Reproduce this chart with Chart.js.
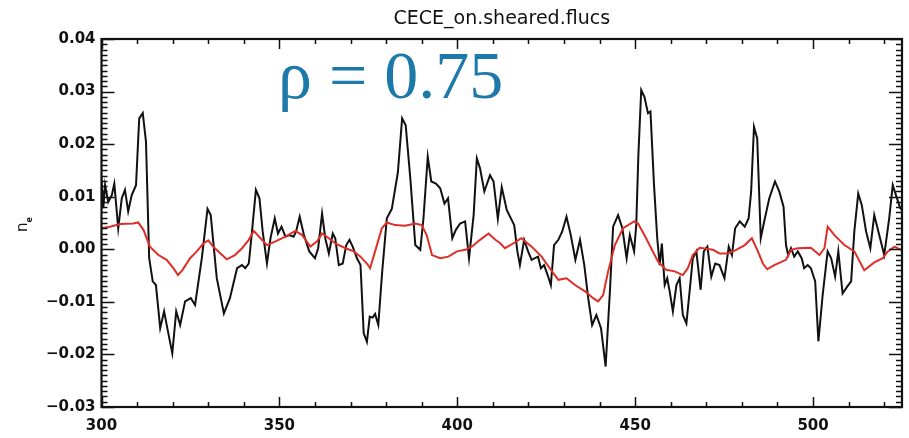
<!DOCTYPE html>
<html>
<head>
<meta charset="utf-8">
<script src="https://cdn.jsdelivr.net/npm/chart.js@4/dist/chart.umd.min.js"></script>
<style>
  html, body { margin: 0; padding: 0; background: #fff; }
  #wrap { width: 909px; height: 438px; }
</style>
</head>
<body>
<div id="wrap"><canvas id="c" width="909" height="438"></canvas></div>
<script>
// Measured density fluctuation (black) and synthetic CECE signal (red)
const blackX = [300.0,300.5,301.0,301.9,302.9,303.6,304.7,305.7,306.6,307.5,308.5,309.7,310.6,311.6,312.5,313.4,314.4,315.3,316.5,317.6,318.5,319.9,321.0,322.1,323.5,325.1,326.3,328.2,329.8,330.7,332.4,334.4,336.1,338.1,339.5,340.4,341.4,342.3,343.4,344.4,345.3,346.5,347.5,348.7,349.6,350.6,351.7,352.8,354.0,354.7,355.7,356.9,358.4,360.0,360.9,362.0,362.9,363.9,365.0,365.7,366.7,367.8,368.8,369.7,370.6,371.8,372.8,373.7,374.6,375.4,376.2,376.9,377.8,378.9,380.2,381.6,383.3,384.5,385.5,386.8,388.2,389.6,390.5,391.7,392.7,394.0,395.2,396.4,397.4,398.6,399.6,400.8,402.2,403.3,404.6,405.5,406.4,407.6,409.2,410.2,411.4,412.5,413.9,415.2,416.0,416.9,417.6,418.8,419.9,420.9,421.8,422.7,423.5,424.4,425.4,426.3,427.2,428.4,429.5,430.7,431.9,433.2,434.5,435.7,436.8,437.9,439.1,440.4,441.7,442.9,443.8,445.2,446.4,447.6,448.5,449.7,450.3,450.9,451.7,452.6,453.6,454.3,455.3,456.2,456.9,457.5,458.3,459.0,459.7,460.6,461.6,462.5,463.4,464.4,465.3,466.2,467.2,468.4,469.3,470.3,471.4,472.5,473.7,475.1,476.3,477.2,478.1,479.4,480.8,481.9,482.6,483.4,484.3,485.3,486.4,487.7,489.3,490.5,491.7,492.4,493.0,493.8,494.7,495.7,496.8,497.5,498.5,499.4,500.6,501.5,502.7,504.1,505.1,506.2,507.1,508.3,509.6,510.7,511.6,512.7,513.7,514.9,516.1,517.2,518.6,520.0,521.4,522.4,523.3,524.5,525.0];
const blackY = [0.0135,0.0078,0.0122,0.0090,0.0103,0.0125,0.0040,0.0097,0.0113,0.0072,0.0103,0.0122,0.0249,0.0259,0.0205,-0.0017,-0.0061,-0.0068,-0.0150,-0.0118,-0.0150,-0.0198,-0.0118,-0.0144,-0.0099,-0.0093,-0.0106,-0.0017,0.0077,0.0065,-0.0055,-0.0122,-0.0093,-0.0036,-0.0030,-0.0036,-0.0027,0.0034,0.0113,0.0097,0.0034,-0.0027,0.0021,0.0059,0.0030,0.0043,0.0024,0.0027,0.0024,0.0034,0.0062,0.0027,-0.0004,-0.0017,0.0002,0.0068,0.0021,-0.0008,0.0030,0.0021,-0.0030,-0.0027,0.0008,0.0018,0.0005,-0.0017,-0.0030,-0.0160,-0.0176,-0.0128,-0.0130,-0.0123,-0.0144,-0.0042,0.0059,0.0077,0.0146,0.0249,0.0236,0.0135,0.0008,-0.0001,0.0059,0.0176,0.0129,0.0125,0.0116,0.0087,0.0097,0.0021,0.0037,0.0049,0.0053,-0.0017,0.0065,0.0173,0.0154,0.0110,0.0141,0.0129,0.0058,0.0118,0.0075,0.0057,0.0046,-0.0004,-0.0030,0.0018,-0.0004,-0.0020,-0.0017,-0.0014,-0.0036,-0.0030,-0.0049,-0.0068,0.0008,0.0018,0.0034,0.0062,0.0027,-0.0020,0.0018,-0.0030,-0.0093,-0.0144,-0.0125,-0.0150,-0.0223,-0.0080,0.0043,0.0065,0.0040,-0.0017,0.0027,-0.0004,0.0046,0.0179,0.0303,0.0290,0.0259,0.0262,0.0122,0.0021,-0.0030,0.0011,-0.0068,-0.0055,-0.0080,-0.0118,-0.0068,-0.0055,-0.0125,-0.0141,-0.0080,-0.0017,-0.0004,-0.0077,-0.0004,0.0005,-0.0052,-0.0027,-0.0030,-0.0055,0.0005,-0.0011,0.0040,0.0053,0.0043,0.0059,0.0110,0.0233,0.0211,0.0021,0.0057,0.0097,0.0129,0.0110,0.0081,0.0008,-0.0011,0.0002,-0.0014,-0.0004,-0.0017,-0.0036,-0.0030,-0.0036,-0.0061,-0.0175,-0.0087,-0.0004,-0.0017,-0.0052,-0.0004,-0.0084,-0.0071,-0.0061,0.0034,0.0106,0.0084,0.0034,0.0002,0.0065,0.0027,-0.0011,0.0059,0.0122,0.0103,0.0078,0.0075];

const redX = [300.0,302.4,305.2,308.9,310.3,311.8,313.6,316.0,318.3,320.2,321.5,322.8,324.9,326.8,328.6,330.0,331.4,333.3,335.2,337.5,339.5,341.4,342.8,344.7,346.5,348.9,351.7,354.5,356.4,358.7,360.6,362.0,363.9,365.7,368.6,370.9,372.8,374.7,375.5,376.9,378.8,380.2,382.5,385.3,388.2,390.0,391.4,392.9,395.2,397.5,399.9,402.2,404.1,406.4,408.8,410.7,412.0,413.4,415.7,418.0,420.9,423.7,426.0,428.4,430.7,433.1,435.9,438.2,439.6,441.0,442.4,444.3,446.6,449.7,450.8,452.6,454.5,456.4,458.7,461.1,463.4,464.8,466.2,468.1,470.0,471.9,473.7,476.1,478.4,480.8,482.8,484.5,485.9,487.1,489.1,492.4,493.8,495.7,499.4,501.8,503.2,504.1,506.0,508.8,511.6,514.4,517.2,519.6,521.0,522.9,525.0];
const redY = [0.0040,0.0043,0.0048,0.0049,0.0051,0.0037,0.0005,-0.0011,-0.0020,-0.0036,-0.0049,-0.0039,-0.0017,-0.0004,0.0011,0.0017,0.0005,-0.0007,-0.0019,-0.0011,0.0002,0.0018,0.0035,0.0021,0.0008,0.0015,0.0024,0.0035,0.0027,0.0005,0.0015,0.0030,0.0021,0.0011,0.0002,-0.0004,-0.0014,-0.0028,-0.0036,-0.0004,0.0040,0.0051,0.0046,0.0045,0.0049,0.0046,0.0027,-0.0011,-0.0017,-0.0014,-0.0004,-0.0001,0.0005,0.0018,0.0030,0.0018,0.0012,0.0002,0.0011,0.0021,0.0005,-0.0014,-0.0036,-0.0058,-0.0055,-0.0068,-0.0080,-0.0093,-0.0099,-0.0087,-0.0042,0.0008,0.0040,0.0053,0.0049,0.0027,0.0002,-0.0023,-0.0039,-0.0042,-0.0049,-0.0036,-0.0011,0.0003,0.0001,-0.0001,-0.0008,-0.0008,-0.0001,0.0008,0.0021,-0.0004,-0.0027,-0.0038,-0.0030,-0.0020,-0.0001,0.0002,0.0003,-0.0011,0.0002,0.0043,0.0027,0.0008,-0.0004,-0.0040,-0.0025,-0.0017,-0.0004,0.0005,-0.0002];

// Axis tick values
const xTickValues = [300, 350, 400, 450, 500];
const yTickValues = [-0.03, -0.02, -0.01, 0.00, 0.01, 0.02, 0.03, 0.04];
const xMinorStep = 10;
const yMinorStep = 0.001;

const titleText = 'CECE_on.sheared.flucs';
const corrText = 'ρ = 0.75';

const toPoints = (xs, ys) => xs.map((x, i) => ({ x: x, y: ys[i] }));

// Boxed frame with inward ticks on all four sides, plus annotations
const framePlugin = {
  id: 'frame',
  afterDraw(chart) {
    const ctx = chart.ctx;
    const a = chart.chartArea;
    const xs = chart.scales.x, ys = chart.scales.y;
    ctx.save();
    ctx.strokeStyle = '#111';
    ctx.lineWidth = 1.5;
    ctx.beginPath();
    // x ticks (bottom and top)
    for (let v = xs.min; v <= xs.max + 1e-9; v += xMinorStep) {
      const px = Math.round(xs.getPixelForValue(v)) + 0.5;
      const major = Math.abs(v % 50) < 1e-6;
      const len = major ? 10 : 5;
      ctx.moveTo(px, a.bottom); ctx.lineTo(px, a.bottom - len);
      ctx.moveTo(px, a.top); ctx.lineTo(px, a.top + len);
    }
    // y ticks (left and right)
    const n = Math.round((ys.max - ys.min) / yMinorStep);
    for (let i = 0; i <= n; i++) {
      const v = ys.min + i * yMinorStep;
      const py = Math.round(ys.getPixelForValue(v)) + 0.5;
      const len = (i % 10 === 0) ? 13 : 6;
      ctx.moveTo(a.left, py); ctx.lineTo(a.left + len, py);
      ctx.moveTo(a.right, py); ctx.lineTo(a.right - len, py);
    }
    ctx.stroke();
    ctx.lineWidth = 2.2;
    ctx.strokeRect(a.left, a.top, a.right - a.left, a.bottom - a.top);

    // title
    ctx.fillStyle = '#111';
    ctx.font = '19px "DejaVu Sans"';
    ctx.textAlign = 'center';
    ctx.textBaseline = 'alphabetic';
    ctx.fillText(titleText, (a.left + a.right) / 2, 24);

    // correlation annotation
    ctx.fillStyle = '#1c79a9';
    ctx.font = '68px "Liberation Serif"';
    ctx.textAlign = 'left';
    ctx.fillText(corrText, 278, 98);

    // y axis label n_e
    ctx.fillStyle = '#111';
    ctx.translate(27, 232);
    ctx.rotate(-Math.PI / 2);
    ctx.font = '15px "DejaVu Sans"';
    ctx.fillText('n', 0, 0);
    const w = ctx.measureText('n').width;
    ctx.font = 'bold 8px "DejaVu Sans"';
    ctx.fillText('e', w, 5);
    ctx.restore();
  }
};

new Chart(document.getElementById('c'), {
  type: 'scatter',
  data: {
    datasets: [
      { label: 'synthetic', data: toPoints(redX, redY), showLine: true, borderColor: '#dd2f27', borderWidth: 2, pointRadius: 0, tension: 0 },
      { label: 'measured', data: toPoints(blackX, blackY), showLine: true, borderColor: '#111111', borderWidth: 2, pointRadius: 0, tension: 0 }
    ]
  },
  options: {
    responsive: false,
    animation: false,
    layout: { padding: { top: 39, right: 7, left: 0, bottom: 0 } },
    plugins: { legend: { display: false }, tooltip: { enabled: false }, title: { display: false } },
    scales: {
      x: {
        type: 'linear', min: 300, max: 525,
        afterBuildTicks: s => { s.ticks = xTickValues.map(v => ({ value: v })); },
        afterFit: s => { s.height = 31; },
        grid: { display: false, drawTicks: false },
        border: { display: false },
        ticks: { color: '#111', padding: 10, maxRotation: 0, autoSkip: false,
                 font: { family: 'DejaVu Sans', size: 15, weight: 'bold' },
                 callback: v => String(v) }
      },
      y: {
        type: 'linear', min: -0.03, max: 0.04,
        afterBuildTicks: s => { s.ticks = yTickValues.map(v => ({ value: v })); },
        afterFit: s => { s.width = 101.5; },
        grid: { display: false, drawTicks: false },
        border: { display: false },
        ticks: { color: '#111', padding: 6, autoSkip: false,
                 font: { family: 'DejaVu Sans', size: 15, weight: 'bold' },
                 callback: v => (v < 0 ? '−' : '') + Math.abs(v).toFixed(2) }
      }
    }
  },
  plugins: [framePlugin]
});
</script>
</body>
</html>
